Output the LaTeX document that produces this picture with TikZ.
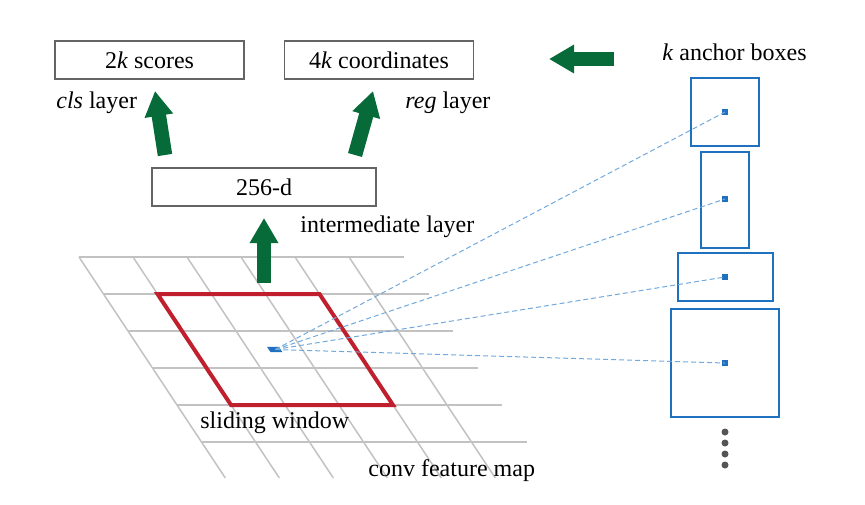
\documentclass[tikz,border=0pt]{standalone}
\usepackage{fontspec}
\setmainfont{Liberation Serif}
\usetikzlibrary{arrows.meta,positioning}
\definecolor{vert}{HTML}{066B38}
\definecolor{bleu}{HTML}{1F70BF}
\definecolor{bleuclair}{HTML}{72A9DD}
\definecolor{rouge}{HTML}{C01F2E}
\definecolor{gris}{HTML}{646464}
\definecolor{grille}{HTML}{C2C2C2}
\definecolor{points}{HTML}{555555}

\begin{document}
\begin{tikzpicture}[x=0.5pt,y=-0.5pt,font=\fontsize{12}{14}\selectfont,
  couche/.style={draw=gris,line width=0.8pt,minimum width=94.5pt,minimum height=19pt,inner sep=0pt},
  etiquette/.style={anchor=base west,inner sep=0pt},
  ancre/.style={draw=bleu,line width=1pt,inner sep=0pt},
  centre/.style={fill=bleu,inner sep=0pt,minimum size=3pt},
  fleche/.style={draw=vert,line width=7.25pt,-{Triangle[length=12.5pt,width=13.5pt]}},
  lien/.style={draw=bleuclair,line width=0.5pt,dash pattern=on 2.5pt off 1.5pt}]
  \useasboundingbox (0,0) rectangle (865,504);

  % Couches.
  \node[couche] (scores) at (149.5,60) {2\textit{k} scores};
  \node[couche] (coords) at (379,60) {4\textit{k} coordinates};
  \node[couche,minimum width=112pt] (inter) at (264,187) {256-d};
  \node[etiquette] (cls) at (56,108) {\textit{cls} layer};
  \node[etiquette] (reg) at (405,108) {\textit{reg} layer};
  \node[etiquette] (interlbl) at (300,232) {intermediate layer};

  % Carte.
  \begin{scope}[shift={(79,257)},x={(27pt,0pt)},y={(12.25pt,-18.5pt)}]
    \foreach \j in {0,...,5}
      \draw[grille,line width=0.75pt] (0,\j) -- ++(6.02,0);
    \foreach \i in {0,...,5}
      \draw[grille,line width=0.75pt] (\i,0) -- (\i,5.97);
    \draw[rouge,line width=2pt] (1,1) -- (4,1) -- (4,4) -- (1,4) -- cycle;
    \coordinate (ctr) at (2.5,2.5);
    \fill[bleu] (2.38,2.43) -- (2.6,2.43) -- (2.6,2.57) -- (2.38,2.57) -- cycle;
  \end{scope}
  \node[etiquette] (win) at (200,428) {sliding window};
  \node[etiquette] (map) at (368,476) {conv feature map};

  % Ancres.
  \node[etiquette] (kab) at (662,60) {\textit{k} anchor boxes};
  \node[ancre,minimum width=34pt,minimum height=34pt] (b1) at (725,112) {};
  \node[ancre,minimum width=24pt,minimum height=48pt] (b2) at (725,200) {};
  \node[ancre,minimum width=47.5pt,minimum height=24pt] (b3) at (725.5,277) {};
  \node[ancre,minimum width=54pt,minimum height=54pt] (b4) at (725,363) {};
  \node[centre] (a1) at (725,112) {};
  \node[centre] (a2) at (725,199) {};
  \node[centre] (a3) at (725,277) {};
  \node[centre] (a4) at (725,363) {};
  \foreach \n in {1,...,4}
    \draw[lien] (ctr) -- (a\n.center);
  \foreach \y in {432,443,454,465}
    \fill[points] (725,\y) circle (1.75pt);

  % Fleches.
  \coordinate (f1) at (165,155);
  \coordinate (t1) at (155,91);
  \coordinate (f2) at (355,155);
  \coordinate (t2) at (373,91);
  \coordinate (f3) at (264,283);
  \coordinate (t3) at (264,218);
  \coordinate (f4) at (614,59);
  \coordinate (t4) at (549,59);
  \foreach \n in {1,...,4}
    \draw[fleche] (f\n) -- (t\n);
\end{tikzpicture}
\end{document}
